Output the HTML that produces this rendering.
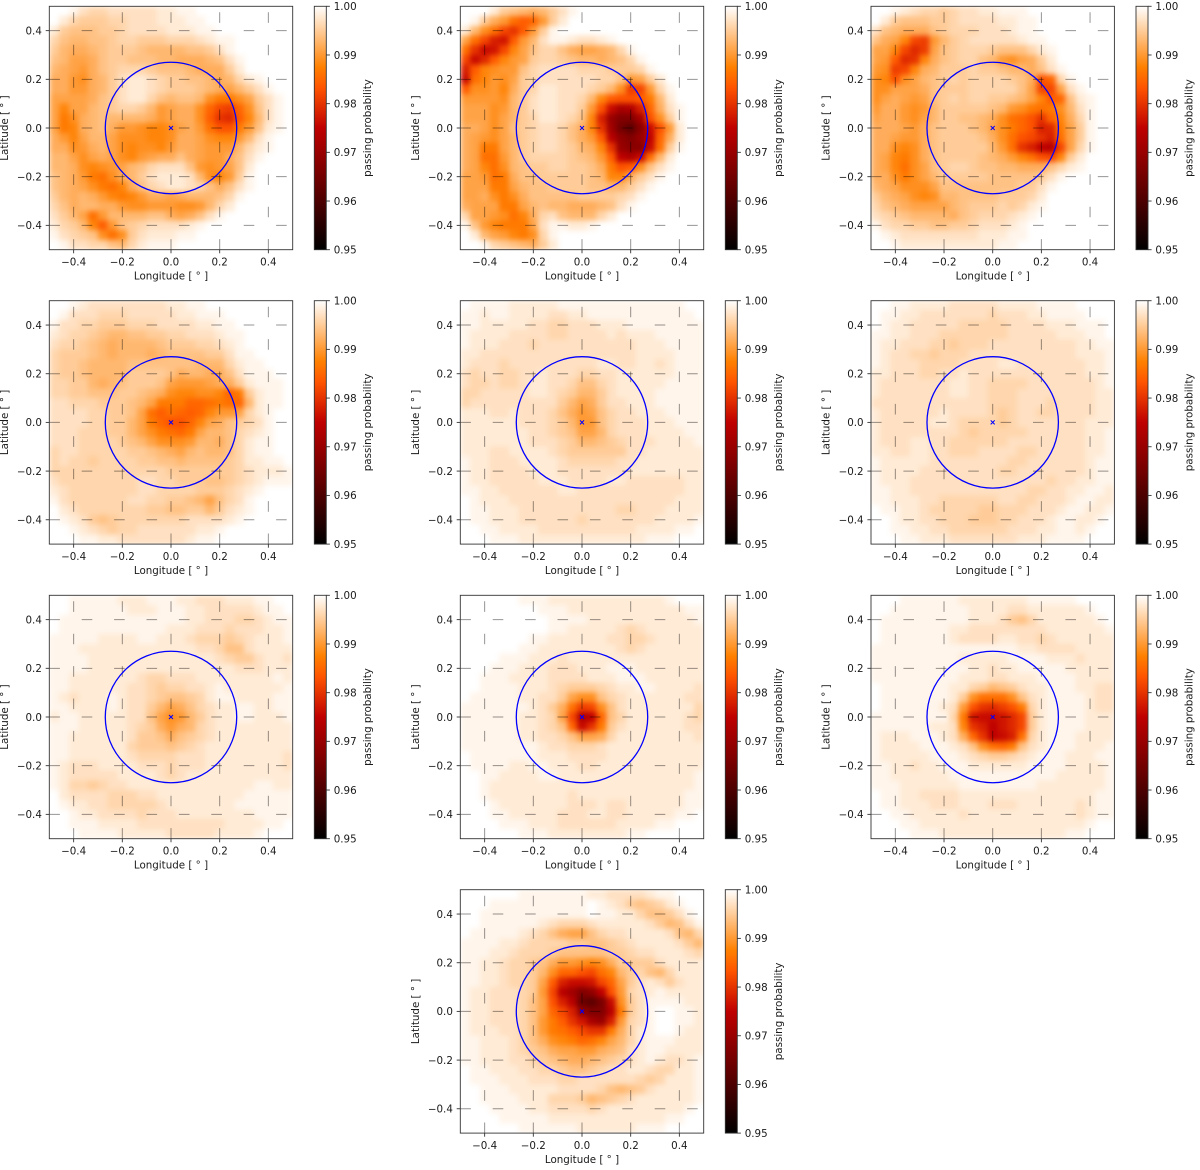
<!DOCTYPE html>
<html lang="en">
<head>
<meta charset="utf-8">
<title>Passing probability maps</title>
<style>
html,body{margin:0;padding:0;background:#fff;width:1200px;height:1170px;overflow:hidden}
svg{display:block}
text{font-family:"DejaVu Sans","Liberation Sans",sans-serif;font-size:10.3px;fill:#1a1a1a}
</style>
</head>
<body>
<svg id="figure" xmlns="http://www.w3.org/2000/svg" width="1200" height="1170" viewBox="0 0 1200 1170">
<defs>
<filter id="soften" x="-10%" y="-10%" width="120%" height="120%" color-interpolation-filters="sRGB"><feGaussianBlur stdDeviation="2.6"/></filter>
</defs>
</svg>
<script>
// Values are probability deficits in units of 0.001 (passing probability = 1 - d/1000).
// Rows run from latitude +0.48 down to -0.48, columns from longitude -0.48 to +0.48; omitted trailing cells are 0.
const panel1=[[0,0,1,3,4,4,3,3,3,3,3,2,2,1,1],[0,2,4,5,5,5,4,4,3,3,3,2,2,2,1,1],[2,5,6,6,6,5,5,4,3,3,3,3,2,2,2,1,1],[4,6,7,7,6,6,5,4,4,5,5,5,4,4,4,3,2,1,1],[5,7,8,8,7,6,5,5,5,6,7,7,7,7,6,6,5,3,1],[6,7,9,9,8,6,5,5,6,6,6,7,7,8,8,8,7,6,3,1],[7,8,9,10,8,6,5,4,4,4,5,6,6,6,7,8,8,8,5,2],[8,8,10,11,8,7,5,3,2,2,3,4,5,5,6,6,7,8,7,4,2,1],[8,8,10,10,8,7,5,3,2,2,3,4,5,5,5,6,7,8,9,7,5,3,1],[9,9,9,9,8,6,5,3,2,2,4,6,7,6,6,7,11,13,13,11,9,5,3,1],[9,12,9,9,7,6,5,4,4,5,7,10,9,8,8,11,15,18,19,15,11,6,3,1],[9,13,11,8,7,6,7,7,7,7,8,10,9,8,8,11,16,20,21,16,12,7,3,1],[9,13,12,8,7,6,8,10,10,11,12,12,11,9,8,10,14,17,17,13,10,6,2,1],[8,10,12,9,7,7,9,11,11,11,12,12,11,8,8,9,11,12,12,10,7,3,1],[8,8,11,10,8,7,9,11,12,11,11,12,10,8,8,9,10,10,10,7,4,2,1],[7,7,9,11,9,8,9,11,12,10,9,8,8,6,8,9,10,10,8,6,3,1],[7,7,8,11,12,11,10,9,7,6,4,3,3,3,6,10,11,10,9,6,2],[6,7,8,10,13,14,11,8,7,5,3,2,2,2,3,7,11,12,10,5,1],[6,7,8,9,11,13,14,12,8,6,4,3,2,2,3,4,6,8,6,3,1],[5,7,8,7,8,10,12,13,12,10,8,8,9,8,7,7,7,6,4,1],[4,6,8,7,7,8,8,10,11,11,10,10,10,11,11,10,7,4,2],[3,5,7,9,14,10,7,7,7,7,6,6,8,9,8,6,3,1],[2,4,5,7,12,16,10,6,5,4,3,3,3,3,2,1],[1,3,4,5,6,11,14,11,5,3,2,2,2,1,1],[0,1,3,3,4,4,6,7,4,2,1,1,1]];
const panel2=[[0,0,0,2,5,6,7,8,7,5,3,1],[0,1,5,8,10,14,16,15,10,5,2],[2,7,11,14,18,20,16,10,5,1],[9,14,18,22,23,16,10,7,3,1,1,2,3,3,2,1],[14,20,24,23,18,12,9,6,4,4,6,8,9,9,8,7,4,1],[18,24,21,16,12,10,9,5,4,4,5,6,7,7,8,7,6,4,1],[22,16,12,11,10,10,6,4,3,3,3,3,4,4,4,5,5,5,4,1],[24,14,12,10,11,9,5,4,3,3,3,3,3,3,4,4,6,10,9,5,2],[16,11,11,10,12,8,5,4,2,2,3,3,3,4,5,7,11,19,18,10,4,1],[10,10,10,10,11,7,5,3,2,2,3,3,4,7,12,16,17,17,16,13,7,2],[9,9,9,11,10,7,5,3,2,2,3,3,5,10,17,24,28,27,22,15,8,3,1],[9,9,9,11,9,7,5,4,2,2,3,4,6,12,22,30,33,33,28,17,11,5,1],[8,8,9,11,9,6,5,4,3,3,4,6,8,12,20,29,35,38,32,24,17,10,2],[8,9,10,11,9,7,5,4,3,3,4,6,8,10,16,26,31,33,30,25,15,8,2],[8,9,13,13,9,7,5,4,3,3,4,5,7,8,12,20,30,32,32,24,14,5,1],[8,9,14,14,10,7,5,4,4,4,4,5,6,7,10,16,25,27,24,14,7,2],[8,9,12,14,11,7,6,5,5,4,4,5,5,6,8,13,17,16,11,6,3,1],[9,9,10,14,13,8,6,6,5,5,5,5,5,6,7,12,12,8,5,3,1],[9,9,9,13,13,9,7,6,6,5,5,5,5,6,6,7,7,5,3,1],[9,9,8,11,13,11,8,6,6,6,6,6,5,5,5,5,4,3,1],[8,9,9,9,13,13,9,7,6,7,7,8,8,8,7,6,3,1],[4,9,9,10,11,14,12,8,4,3,6,7,7,7,4,2],[1,6,10,12,13,13,13,9,3,1,1,2,2,1],[0,2,7,9,10,12,13,11,4,1],[0,0,1,4,5,6,7,8,5,2]];
const panel3=[[0,0,1,2,3,4,4,5,4,3,3,2,2,1,1,1],[0,2,5,6,6,6,5,5,4,3,3,3,3,2,2,1,1],[3,6,7,8,8,8,6,5,4,4,4,3,3,3,2,1,1],[6,8,9,12,18,19,10,7,5,4,3,3,3,3,3,2,1,1],[9,9,12,18,21,19,9,6,5,4,4,4,5,6,6,6,4,2,1],[9,10,16,21,20,12,8,6,5,4,4,6,7,10,11,9,8,5,2],[10,11,19,18,12,8,7,5,5,5,4,5,5,6,7,7,8,6,3,1],[11,12,17,11,9,7,6,5,4,5,4,4,4,4,5,6,8,17,15,4,1],[11,11,9,9,9,8,6,5,5,5,4,4,4,4,4,6,9,18,18,9,3,1],[11,9,8,9,10,9,6,5,4,5,4,4,5,5,6,7,9,12,16,15,6,2,1],[10,8,8,10,11,10,7,5,5,5,5,5,6,7,10,11,13,14,13,11,7,3,1],[9,8,8,10,11,9,7,5,5,6,6,7,8,11,14,15,17,20,15,12,8,4,1],[8,8,8,9,10,8,6,5,5,5,6,7,9,11,13,15,17,22,21,13,9,5,1],[8,8,9,10,10,8,6,5,5,5,5,6,8,11,14,17,18,20,22,14,9,5,1],[8,8,11,12,11,8,6,5,5,5,5,5,7,10,14,20,22,25,26,18,9,4,1],[8,9,12,13,11,8,6,5,5,5,5,6,7,8,10,12,14,17,18,12,5,2],[8,9,12,14,11,9,6,5,4,4,5,6,6,7,7,8,8,8,6,4,2,1],[8,8,11,13,11,9,7,5,5,5,5,5,6,6,6,6,6,5,3,1],[7,8,9,11,11,11,9,6,6,6,6,6,6,6,6,5,5,3,1],[5,7,8,9,11,12,11,7,7,6,6,6,6,5,5,5,4,2],[4,6,7,8,9,9,9,9,7,6,5,5,5,4,5,4,2,1],[3,4,5,6,7,7,7,7,8,6,5,4,4,4,3,2,1],[1,3,4,4,5,5,6,6,5,5,4,3,3,3,2,1],[0,1,2,3,3,3,3,3,3,3,3,2,2,2,1,1],[0,0,1,2,2,2,2,2,2,2,2,2,2,1,1]];
const panel4=[[0,0,1,2,3,3,3,3,3,3,3,3,2,2,1,1],[0,1,3,3,3,4,4,4,3,3,3,3,3,2,2,1,1,1],[1,3,3,4,4,5,5,5,4,4,4,3,3,3,3,2,2,1,1],[2,3,4,4,5,6,7,7,6,6,5,5,4,4,3,3,3,2,1,1],[3,4,4,5,6,7,8,7,7,7,7,6,5,5,5,4,4,3,2,1],[4,5,5,5,6,7,8,7,7,7,8,7,6,6,6,6,5,5,3,1,1],[4,5,5,6,7,7,7,7,6,6,6,6,6,6,6,7,7,7,4,2,1,1],[4,5,5,6,7,7,7,7,5,5,5,5,6,8,7,7,8,8,6,3,1,1,1],[4,4,5,5,7,8,7,6,5,5,5,6,9,10,10,10,9,8,8,5,2,1,1,1],[4,4,5,5,6,6,6,5,5,6,7,8,11,12,12,11,11,12,15,13,5,2,1,1],[3,3,4,4,4,5,5,5,6,7,9,13,13,13,15,15,14,13,14,15,7,2,1,1],[3,3,3,3,4,4,5,5,6,9,14,16,14,15,16,15,12,10,10,9,4,2,1],[3,3,3,3,4,4,5,5,7,9,13,15,17,17,15,12,9,8,6,5,4,3,1],[3,3,3,4,4,4,5,5,7,9,11,13,14,15,13,9,7,7,6,4,3,2,1],[3,3,3,4,4,4,4,5,6,7,9,11,11,11,10,7,7,8,6,4,2,1,1],[4,3,3,4,4,4,4,4,5,5,6,7,8,9,7,6,7,7,6,4,2,1,1],[4,3,4,4,5,4,4,4,4,5,5,6,6,7,6,6,6,6,5,4,2,2,1,1],[4,4,4,4,4,4,4,4,4,4,4,4,5,5,5,5,5,5,5,4,3,2,2,2,1],[3,4,4,4,4,4,4,4,4,3,3,4,4,5,5,5,6,6,5,4,3,2,1,1,1],[2,3,4,4,4,4,4,4,4,3,3,4,4,4,4,5,5,5,4,3,2,1],[1,3,4,4,4,4,4,4,3,3,4,4,5,5,6,7,9,6,4,3,1],[0,2,3,4,4,4,4,4,4,4,5,5,6,6,5,5,7,5,3,2,1],[0,1,2,3,5,6,5,4,4,4,4,4,4,4,3,3,3,3,2,1],[0,0,1,2,3,4,5,4,4,3,3,3,3,3,3,2,2,1],[0,0,0,1,1,2,2,3,3,3,3,3,3,3,2,1,1]];
const panel5=[[0,1,1,1,1,2,2,2,2,2,1,1,1,1,1,1,1,1,1,1,1,1,1],[1,1,2,1,1,2,2,2,2,3,3,2,2,1,1,1,1,1,1,1,1,1,1,1],[1,1,2,2,2,2,2,3,3,4,4,3,3,3,2,2,2,1,1,1,1,1,1,1,1],[1,2,2,2,2,3,3,3,3,4,4,3,3,3,3,2,3,2,2,2,1,1,1,1,1],[1,2,2,2,3,3,3,4,3,3,3,3,3,3,3,3,3,3,2,2,2,1,1,1,1],[2,2,3,3,3,3,3,3,3,3,3,3,3,3,3,3,3,3,2,2,2,2,1,1,1],[2,3,3,3,4,3,3,3,3,3,3,3,3,3,2,2,3,3,2,2,3,2,1,1,1],[3,4,3,3,4,4,3,3,2,3,3,3,4,4,3,3,2,2,2,2,2,2,1,1,1],[3,4,4,3,4,4,3,2,2,3,3,4,6,6,4,3,2,2,2,2,2,1,1,1,1],[4,4,3,3,3,3,3,2,2,3,4,5,7,7,5,3,2,2,2,2,1,1,1,1,1],[4,3,3,3,3,3,3,3,3,3,5,7,9,8,5,3,3,2,2,2,1,1,1,1,1],[2,2,2,3,3,2,3,3,3,4,6,8,10,9,6,4,3,3,2,2,2,1,1,1,1],[2,2,2,2,2,2,3,3,3,4,5,7,10,10,6,4,3,3,3,2,2,2,1,1,1],[2,2,2,2,2,2,2,3,3,4,5,6,9,9,7,4,3,3,3,2,2,2,2,1,1],[2,2,2,2,2,2,2,3,3,3,4,5,7,7,6,5,4,3,3,3,2,2,2,2,1],[2,2,2,3,3,2,2,2,2,3,4,5,5,5,5,5,5,3,3,2,2,2,2,2,2],[1,2,2,3,3,3,2,2,2,2,3,4,4,4,4,4,3,3,2,2,2,2,2,2,2],[1,2,2,3,3,3,3,2,2,2,3,3,3,3,3,3,3,2,2,2,2,2,2,2,2],[1,2,2,3,3,3,3,3,2,2,2,3,3,3,3,2,2,3,3,3,3,3,3,2,2],[1,1,2,2,3,3,3,3,3,3,2,2,3,3,3,3,3,3,3,3,3,3,3,2,2],[0,1,2,2,2,3,3,3,3,3,3,3,3,3,3,3,3,3,3,3,3,3,2,2,2],[0,1,1,2,2,2,3,3,3,3,3,3,3,3,3,3,4,4,3,3,3,2,2,2,2],[0,1,1,2,2,2,3,3,3,3,3,3,4,3,3,3,3,3,3,3,2,2,2,2,1],[0,0,1,1,2,2,2,2,3,3,3,3,3,3,3,3,3,3,2,2,2,2,1,1],[0,0,0,1,1,1,2,2,2,2,2,2,2,2,2,2,2,2,2,1,1,1]];
const panel6=[[0,0,1,1,2,2,2,2,3,3,3,3,3,2,2,2,2,1,1,1,1],[0,1,1,2,2,3,3,3,3,3,3,3,4,3,3,3,2,2,1,1,1,1],[0,1,2,2,3,3,3,3,3,4,4,4,4,4,3,3,3,3,2,2,2,1,1,1],[1,1,2,2,3,3,3,4,4,4,4,4,4,4,3,3,3,3,3,2,2,2,1,1],[1,2,2,3,3,3,4,4,5,4,4,4,3,3,3,3,3,3,3,3,3,2,2,1,1],[1,2,3,3,4,4,5,4,4,4,3,3,3,3,3,3,3,3,3,3,3,2,2,2,1],[1,2,3,3,3,4,4,4,4,3,3,3,3,2,2,3,3,3,3,3,3,3,2,2,1],[2,2,3,3,3,4,4,3,3,2,3,3,3,3,3,3,3,3,3,3,3,3,2,2,1],[2,3,3,3,3,3,3,3,2,2,3,3,4,4,4,4,3,3,3,3,3,3,3,2,1],[2,3,3,3,3,3,3,3,2,2,3,3,4,4,4,3,3,3,3,3,3,3,3,2,2],[3,3,3,3,3,3,3,3,3,3,3,3,4,4,4,3,3,3,4,3,3,3,3,2,2],[2,3,3,3,3,3,3,2,3,3,3,3,4,5,4,3,3,4,4,3,3,3,3,2,2],[2,3,3,3,3,3,2,2,3,4,4,4,4,5,4,3,3,3,3,3,3,3,2,2,2],[2,3,3,3,3,3,3,3,3,4,5,4,4,4,4,4,3,3,3,3,3,3,2,2,1],[2,3,3,3,2,2,3,3,4,4,4,4,4,4,3,3,3,3,3,3,3,3,2,2,1],[2,2,3,3,2,2,3,3,4,4,4,3,3,3,3,4,4,3,3,3,3,3,2,2,1],[1,2,2,2,2,2,3,3,3,3,3,3,3,3,4,4,3,3,3,3,3,3,2,1,1],[1,2,2,2,2,3,3,3,3,3,3,3,3,4,4,3,3,3,3,3,3,3,2,1,1],[1,2,2,2,3,3,3,3,3,3,3,3,3,3,3,3,3,3,4,3,3,2,2,1,1],[1,1,2,2,3,3,3,3,3,3,3,3,3,3,3,3,4,4,3,3,2,2,1,1,2],[1,1,2,2,2,3,3,4,4,4,4,4,4,3,3,4,4,3,3,3,2,1,1,2,2],[0,1,1,2,2,3,4,4,4,4,4,5,5,4,4,4,3,3,3,2,1,1,2,2,1],[0,0,1,2,2,3,3,4,4,4,5,5,5,4,4,3,3,3,2,1,1,2,2,1],[0,0,1,1,2,2,3,3,4,4,4,4,4,4,3,3,3,2,2,1,1,2,1],[0,0,0,1,1,2,2,2,3,3,3,3,3,3,3,2,2,2,1,1,1,1]];
const panel7=[[0,0,1,1,1,1,1,2,2,2,1,1,1,2,2,3,3,3,2,2,2,1,1],[0,0,1,1,1,1,1,1,2,2,2,1,1,1,2,2,3,3,3,3,3,2,1,1],[0,1,1,1,1,1,1,1,1,1,1,1,1,1,2,2,3,3,3,4,4,3,2,1,1],[0,1,1,1,1,1,1,1,1,1,1,1,2,2,2,3,3,3,4,3,3,3,2,2,1],[1,1,1,1,1,2,2,2,2,1,1,2,2,2,3,4,4,4,5,4,3,2,2,2,1],[1,1,1,2,2,2,2,2,2,2,2,2,2,2,2,3,3,4,6,6,3,2,2,2,2],[1,1,1,1,2,2,2,2,2,2,2,2,2,2,2,2,2,3,4,5,5,3,2,2,3],[1,1,1,1,2,2,2,2,2,2,2,2,2,2,2,2,2,2,2,3,3,3,2,2,2],[1,1,2,2,2,2,2,2,2,3,4,4,3,3,3,2,2,2,2,2,2,2,2,1,2],[1,1,2,2,2,2,2,2,3,3,4,5,4,4,3,3,2,1,2,2,2,2,2,2,1],[1,2,3,2,2,2,1,2,3,3,4,5,6,6,5,4,2,1,1,2,2,2,2,1,1],[1,1,2,2,2,2,1,2,3,3,5,7,9,8,6,4,3,2,2,1,1,2,2,1,1],[2,1,1,2,2,2,2,2,3,3,6,9,11,10,7,5,3,2,2,1,1,2,2,2,1],[1,1,1,2,2,2,2,2,3,4,5,8,10,8,7,4,3,2,2,2,2,2,2,2,2],[1,1,2,2,2,2,2,2,3,5,5,6,8,6,5,4,3,2,2,2,2,2,2,2,2],[1,1,2,2,2,2,2,2,4,5,5,5,6,5,4,3,2,2,2,2,2,2,2,2,2],[1,1,2,2,2,2,2,2,3,4,4,4,4,3,3,3,2,2,2,2,2,2,2,2,3],[1,2,3,3,3,2,2,2,2,3,3,3,4,3,3,3,2,2,2,2,2,2,2,2,3],[1,2,3,3,3,3,3,2,2,2,2,3,4,3,2,2,2,2,2,2,2,2,2,2,2],[1,2,4,4,5,4,3,3,2,2,2,2,2,2,2,2,2,2,2,2,2,1,1,2,2],[0,2,3,3,3,3,4,4,4,3,3,2,2,2,2,2,2,2,2,2,1,1,1,1,1],[0,1,2,2,3,3,4,4,4,4,4,3,2,2,2,2,2,2,2,1,1,1,1,1,1],[0,0,1,2,2,3,3,3,3,4,3,3,3,2,2,2,2,2,2,2,2,1,1,1,1],[0,0,1,1,1,2,2,2,2,3,3,3,3,3,3,3,3,3,2,2,2,2,1,1],[0,0,0,1,1,1,1,2,2,2,2,2,3,3,3,3,3,2,2,2,2,1]];
const panel8=[[0,0,0,0,0,0,1,1,1,2,2,2,2,2,2,2,2,2,2,2,2,1],[0,0,0,0,0,0,0,0,1,1,1,2,2,2,2,2,2,2,2,2,2,2,2,1,1],[0,0,0,0,0,0,0,0,0,1,1,1,1,2,2,2,2,2,2,2,2,2,2,2,1],[0,0,0,0,0,0,0,0,0,1,1,2,2,2,2,2,3,4,3,2,2,2,2,2,2],[0,0,0,0,0,0,0,1,1,2,2,2,2,2,2,3,3,4,4,3,2,2,2,2,2],[0,0,0,0,0,0,1,1,2,2,2,2,2,2,2,2,3,4,3,2,2,2,2,2,2],[0,0,0,0,1,1,1,2,2,2,3,2,2,2,2,2,2,2,2,2,2,2,2,2,2],[0,0,0,1,1,1,2,2,2,3,3,3,2,2,2,1,1,1,2,2,2,2,2,2,2],[0,0,1,1,1,2,2,2,2,3,3,3,3,2,2,2,1,1,1,2,2,2,2,2,2],[0,0,1,1,1,1,2,2,2,3,4,5,5,5,4,3,2,2,1,1,2,2,2,2,3],[0,1,1,1,1,1,2,2,3,3,5,9,11,11,6,4,3,2,2,2,2,2,2,3,3],[1,1,1,1,1,1,1,2,3,5,8,14,19,18,11,6,3,2,2,2,2,2,2,2,4],[1,1,1,1,1,1,2,2,3,4,9,18,27,25,15,6,4,2,2,2,2,2,2,3,4],[1,1,1,1,1,1,2,2,3,4,6,15,24,20,13,5,3,2,2,2,2,2,2,3,3],[1,1,1,1,1,1,2,2,3,3,4,6,9,9,8,4,2,2,2,2,2,2,2,2,3],[1,1,1,1,1,1,1,1,2,3,3,4,4,4,3,2,2,2,2,2,2,2,2,2,2],[0,1,1,1,1,1,1,1,2,2,2,3,3,3,3,2,2,2,2,2,2,2,2,2,2],[0,1,1,1,1,2,2,1,1,2,2,2,3,3,2,2,2,2,2,2,2,2,2,2,2],[0,0,1,1,2,2,2,2,1,1,2,2,2,2,2,2,2,2,2,2,2,2,2,2,1],[0,0,1,2,2,2,2,2,2,2,2,2,2,2,2,2,2,2,2,2,2,2,2,2,1],[0,0,1,2,2,2,2,2,2,2,2,3,2,2,2,2,2,2,2,2,2,2,2,1,1],[0,0,0,1,2,2,2,2,2,2,2,3,3,3,2,3,3,2,2,2,2,2,2,1,1],[0,0,0,1,1,2,2,2,2,2,3,3,3,2,2,3,3,2,2,2,2,2,1,1],[0,0,0,0,1,1,1,2,2,2,3,3,3,3,3,3,2,2,2,2,1,1],[0,0,0,0,0,0,1,1,1,2,2,2,2,2,2,2,2,1,1]];
const panel9=[[0,0,0,1,1,1,1,1,1,2,2,2,2,2,2,2,1,1,1,1,1],[0,0,1,1,1,1,1,1,1,1,2,2,2,2,3,3,2,2,2,2,2,2,1],[0,1,1,1,1,1,1,1,1,1,2,2,2,3,5,6,4,2,2,2,2,2,2,1],[0,1,1,1,1,1,1,1,2,2,3,3,3,3,3,3,3,3,2,2,2,2,2,2,1],[0,1,1,1,1,1,1,1,2,3,3,3,3,2,2,3,3,4,3,2,2,2,2,2,2],[1,1,1,1,1,1,1,1,1,1,1,1,1,1,1,2,2,3,3,3,3,2,2,2,2],[1,1,1,1,1,1,1,1,1,2,2,2,2,2,1,1,1,1,2,2,2,3,2,2,2],[1,1,1,1,1,1,1,1,1,1,2,2,3,2,2,1,1,1,1,1,2,2,2,2,2],[1,1,1,1,1,1,1,1,1,2,2,2,3,3,2,2,2,1,1,1,1,2,2,2,2],[0,1,1,1,1,1,1,1,2,2,4,5,7,6,5,3,2,2,1,1,1,2,2,3,3],[0,1,1,1,1,1,1,1,2,5,11,14,14,14,11,6,3,2,1,1,1,1,2,3,3],[0,1,1,1,1,1,1,2,3,10,17,20,21,19,17,13,4,2,1,1,1,1,2,3,3],[1,1,1,1,1,1,1,1,4,13,23,24,24,23,21,18,5,2,1,1,1,1,2,2,2],[1,1,1,1,1,1,2,2,3,12,20,22,25,23,21,18,5,2,1,1,1,1,2,2,2],[1,2,2,2,1,1,1,2,3,8,15,20,25,24,22,14,4,2,1,1,1,2,2,2,2],[1,2,2,2,2,1,1,1,2,3,6,11,14,15,13,6,3,2,1,1,1,2,2,2,1],[1,2,2,2,2,2,1,1,1,2,3,4,5,5,4,3,2,1,1,1,2,2,2,1,1],[1,1,2,2,3,2,2,1,1,1,2,2,2,2,2,2,1,1,1,1,2,2,2,2,1],[1,1,2,2,2,2,2,2,1,1,1,1,1,1,1,1,1,1,1,2,2,2,2,2,1],[1,1,1,2,2,2,2,2,2,1,1,1,1,1,1,1,1,2,2,2,2,2,2,2,1],[0,1,1,2,2,3,3,3,3,2,2,2,2,2,2,2,2,2,2,2,2,2,2,1,1],[0,1,1,2,2,2,3,3,3,2,2,2,3,3,3,2,2,2,2,2,2,3,2,1,1],[0,0,1,1,2,2,2,2,2,3,2,2,2,2,2,2,2,2,2,2,2,3,2,1,1],[0,0,0,1,1,2,2,2,2,2,2,2,2,2,2,2,2,2,2,2,2,2,1],[0,0,0,0,1,1,1,2,2,2,2,2,2,2,2,2,2,2,2,2,1,1]];
const panel10=[[0,0,0,0,0,0,1,1,1,1,1,1,1,2,2,3,3,3,3,2,1,1],[0,0,0,1,1,1,1,1,1,1,1,1,1,0,1,2,3,5,6,5,4,2,1],[0,0,1,1,1,1,1,1,1,1,1,1,1,0,1,1,2,2,4,6,6,5,3,1],[0,0,1,1,1,1,1,1,2,3,4,4,4,3,2,2,2,2,2,3,5,7,6,3,1],[0,1,1,1,1,1,2,3,4,6,8,9,9,6,4,3,3,2,2,2,2,3,6,7,4],[1,1,1,1,2,2,3,4,4,4,4,5,5,6,6,5,4,3,2,2,2,2,3,5,7],[1,1,1,2,2,3,4,4,4,5,6,6,6,6,6,5,5,4,3,3,2,2,2,3,4],[1,1,2,2,3,4,4,5,6,8,10,10,11,12,11,8,5,5,5,5,3,2,2,2,2],[1,1,2,2,3,4,4,5,7,11,15,15,17,18,14,12,7,5,4,6,7,4,2,2,2],[1,1,2,2,3,4,4,5,9,16,22,24,24,23,18,15,9,5,3,2,3,5,3,2,2],[1,2,2,3,3,3,4,5,10,18,26,29,33,31,25,17,10,4,3,2,1,2,2,2,2],[1,2,2,3,3,3,4,6,9,17,22,26,36,38,34,24,11,5,3,1,1,1,1,2,2],[1,2,2,3,3,3,4,6,9,15,18,22,31,33,33,26,13,5,3,1,0,0,1,1,2],[1,2,2,3,3,3,4,6,10,13,16,20,23,28,30,22,10,4,3,1,0,0,1,1,2],[1,2,2,2,3,3,4,6,10,13,14,16,18,20,20,13,8,4,2,1,0,0,1,2,2],[1,1,2,2,2,3,4,6,8,11,12,13,15,14,12,9,7,4,2,1,1,1,2,2,2],[1,1,2,2,2,3,4,5,6,8,9,9,10,10,8,7,6,3,2,1,1,2,2,2,2],[1,1,2,2,2,3,3,4,5,6,7,8,8,7,6,5,4,3,2,1,2,3,3,2,1],[0,1,1,2,2,2,3,3,4,4,5,6,6,5,4,3,3,2,2,3,4,4,2,2,1],[0,1,1,1,2,2,2,3,3,3,4,4,3,3,3,3,3,3,4,5,4,2,2,2,1],[0,0,1,1,1,2,2,2,2,2,3,3,3,3,4,6,7,6,5,3,2,2,2,2,1],[0,0,1,1,1,1,2,2,2,4,4,4,5,7,6,5,4,3,2,2,2,2,2,2,1],[0,0,0,1,1,1,1,2,2,3,3,3,3,4,3,2,2,2,2,2,2,2,2,1],[0,0,0,0,1,1,1,1,1,2,2,2,2,2,2,2,2,2,2,2,2,1,1],[0,0,0,0,0,0,1,1,1,1,1,1,2,2,2,2,2,2,1,1,1]];
const allPanels=[panel1,panel2,panel3,panel4,panel5,panel6,panel7,panel8,panel9,panel10];
const axisTicks=[-0.4,-0.2,0,0.2,0.4];
const colorbarTicks=[0.95,0.96,0.97,0.98,0.99,1.00];
const colorbarStops=[0,0.25,0.5,0.6667,0.75,1];
const cellWidthDeg=0.04;
const footprintRadiusDeg=0.27;

const figure=document.getElementById('figure');
const NS='http://www.w3.org/2000/svg';
const AXIS_SIZE=243.4;
const columnLefts=[49.3,460.3,871.0];
const rowTops=[6.3,300.7,595.3,889.7];
const panelCells=[[0,0],[1,0],[2,0],[0,1],[1,1],[2,1],[0,2],[1,2],[2,2],[1,3]];

function make(tag,attrs,parent){
  const el=document.createElementNS(NS,tag);
  for(const k in attrs){el.setAttribute(k,attrs[k]);}
  parent.appendChild(el);
  return el;
}
function gistHeat(x){
  const r=Math.min(1,1.5*x),g=Math.max(0,2*x-1),b=Math.max(0,4*x-3);
  return 'rgb('+Math.round(r*255)+','+Math.round(g*255)+','+Math.round(b*255)+')';
}
function probabilityColor(p){
  return gistHeat(Math.max(0,Math.min(1,(p-0.95)/0.05)));
}
function fmt(v,digits){
  return v.toFixed(digits).replace('-','\u2212');
}

const defs=figure.querySelector('defs');
const gradient=make('linearGradient',{id:'cbar-gradient',x1:0,y1:1,x2:0,y2:0},defs);
colorbarStops.forEach(function(s){
  make('stop',{offset:s,'stop-color':gistHeat(s)},gradient);
});

allPanels.forEach(function(rows,index){
  const left=columnLefts[panelCells[index][0]];
  const top=rowTops[panelCells[index][1]];
  const xScale=function(lon){return left+(lon+0.5)*AXIS_SIZE;};
  const yScale=function(lat){return top+(0.5-lat)*AXIS_SIZE;};

  const panel=make('g',{},figure);
  
  

  const clip=make('clipPath',{id:'clip-'+index},defs);
  make('rect',{x:left,y:top,width:AXIS_SIZE,height:AXIS_SIZE},clip);

  const clipped=make('g',{'clip-path':'url(#clip-'+index+')'},panel);
  
  

  const heat=make('g',{filter:'url(#soften)'},clipped);
  
  

  make('rect',{x:left-12,y:top-12,width:AXIS_SIZE+24,height:AXIS_SIZE+24,fill:'#fff'},heat);
  rows.forEach(function(row,j){
    row.forEach(function(d,i){
      const lon=-0.5+i*cellWidthDeg,lat=0.5-j*cellWidthDeg;
      const cell=make('rect',{
        x:xScale(lon),y:yScale(lat),
        width:xScale(lon+cellWidthDeg)-xScale(lon)+0.5,
        height:yScale(lat-cellWidthDeg)-yScale(lat)+0.5,
        fill:probabilityColor(1-d/1000),'shape-rendering':'crispEdges'
      },heat);
      
      
    });
  });

  axisTicks.forEach(function(t){
    const h=make('line',{x1:left,x2:left+AXIS_SIZE,y1:yScale(t),y2:yScale(t),stroke:'#000','stroke-opacity':0.42,'stroke-width':1,'stroke-dasharray':'10.6 21.8'},clipped);
    
    
    const v=make('line',{x1:xScale(t),x2:xScale(t),y1:top+AXIS_SIZE,y2:top,stroke:'#000','stroke-opacity':0.42,'stroke-width':1,'stroke-dasharray':'10.6 21.8'},clipped);
    
    
  });

  const ring=make('circle',{cx:xScale(0),cy:yScale(0),r:footprintRadiusDeg*AXIS_SIZE,fill:'none',stroke:'#0000ff','stroke-width':1.3},clipped);
  
  

  const marker=make('path',{d:'M'+(xScale(0)-2)+' '+(yScale(0)-2)+'l4 4M'+(xScale(0)-2)+' '+(yScale(0)+2)+'l4 -4',stroke:'#0000ff','stroke-width':1,fill:'none'},clipped);
  
  

  const frame=make('rect',{x:left,y:top,width:AXIS_SIZE,height:AXIS_SIZE,fill:'none',stroke:'#333','stroke-width':0.9},panel);
  
  

  axisTicks.forEach(function(t){
    const xt=make('line',{x1:xScale(t),x2:xScale(t),y1:top+AXIS_SIZE,y2:top+AXIS_SIZE+3.6,stroke:'#333','stroke-width':0.9},panel);
    
    
    const xl=make('text',{x:xScale(t),y:top+AXIS_SIZE+16,'text-anchor':'middle'},panel);
    xl.textContent=fmt(t,1);
    
    
    const yt=make('line',{x1:left-3.6,x2:left,y1:yScale(t),y2:yScale(t),stroke:'#333','stroke-width':0.9},panel);
    
    
    const yl=make('text',{x:left-7.4,y:yScale(t)+3.8,'text-anchor':'end'},panel);
    yl.textContent=fmt(t,1);
    
    
  });

  const xTitle=make('text',{x:left+AXIS_SIZE/2,y:top+AXIS_SIZE+30,'text-anchor':'middle'},panel);
  xTitle.textContent='Longitude [ \u00B0 ]';
  
  

  const yTitleX=left-41.5,yTitleY=top+AXIS_SIZE/2;
  const yTitle=make('text',{x:yTitleX,y:yTitleY,'text-anchor':'middle',transform:'rotate(-90 '+yTitleX+' '+yTitleY+')'},panel);
  yTitle.textContent='Latitude [ \u00B0 ]';
  
  

  const barLeft=left+265,barWidth=12;
  const barScale=function(p){return top+(1-p)/0.05*AXIS_SIZE;};
  const bar=make('g',{},panel);
  
  
  make('rect',{x:barLeft,y:top,width:barWidth,height:AXIS_SIZE,fill:'url(#cbar-gradient)',stroke:'#333','stroke-width':0.9},bar);
  colorbarTicks.forEach(function(p){
    const ct=make('line',{x1:barLeft+barWidth,x2:barLeft+barWidth+3.6,y1:barScale(p),y2:barScale(p),stroke:'#333','stroke-width':0.9},bar);
    
    
    const cl=make('text',{x:barLeft+barWidth+7.4,y:barScale(p)+3.8},bar);
    cl.textContent=p.toFixed(2);
    
    
  });
  const barTitleX=barLeft+56.5,barTitleY=top+AXIS_SIZE/2;
  const barTitle=make('text',{x:barTitleX,y:barTitleY,'text-anchor':'middle',transform:'rotate(-90 '+barTitleX+' '+barTitleY+')'},bar);
  barTitle.textContent='passing probability';
  
  
});
</script>
</body>
</html>
